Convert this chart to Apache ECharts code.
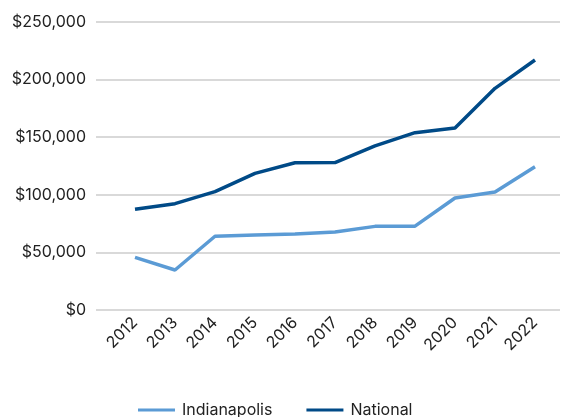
<!DOCTYPE html>
<html>
<head>
<meta charset="utf-8">
<script src="https://cdn.jsdelivr.net/npm/echarts@6/dist/echarts.min.js"></script>
<style>html,body{margin:0;padding:0;background:#fff}#c{width:569px;height:417px}</style>
</head>
<body>
<div id="c"></div>
<script>
const years = ['2012','2013','2014','2015','2016','2017','2018','2019','2020','2021','2022'];
const indianapolis = [45700, 34700, 64000, 65000, 66000, 67700, 72600, 72800, 97200, 102400, 124400];
const national = [87400, 92300, 102700, 118600, 127800, 128000, 142500, 153900, 158000, 192400, 217000];
const yTicks = [0, 50000, 100000, 150000, 200000, 250000];

const font = 'Inter, "Noto Sans", sans-serif';
const chart = echarts.init(document.getElementById('c'));
chart.setOption({
  animation: false,
  textStyle: { fontFamily: font },
  grid: [
    { left: 96, right: 9, top: 22, bottom: 107 },
    { left: 115, right: 14, top: 22, bottom: 107 }
  ],
  xAxis: [
    { gridIndex: 0, type: 'value', show: false, min: 0, max: 1 },
    { gridIndex: 1, type: 'category', data: years, boundaryGap: true,
      axisLine: { show: false }, axisTick: { show: false },
      axisLabel: { rotate: 45, margin: 10, fontSize: 16, color: '#222222', fontFamily: font } }
  ],
  yAxis: [
    { gridIndex: 0, type: 'value', min: yTicks[0], max: yTicks[yTicks.length - 1], interval: 50000,
      axisLine: { show: false }, axisTick: { show: false },
      splitLine: { lineStyle: { color: '#d9d9d9', width: 2 } },
      axisLabel: { margin: 10, fontSize: 16, color: '#222222', fontFamily: font,
        formatter: v => '$' + v.toLocaleString('en-US') } },
    { gridIndex: 1, type: 'value', min: yTicks[0], max: yTicks[yTicks.length - 1], show: false, splitLine: { show: false } }
  ],
  legend: {
    left: 133, top: 397,
    icon: 'rect', itemWidth: 37, itemHeight: 3, itemGap: 34,
    textStyle: { fontSize: 16, color: '#222222', fontFamily: font, padding: [0, 0, 0, 2] },
    data: ['Indianapolis', 'National']
  },
  series: [
    { name: 'Indianapolis', type: 'line', xAxisIndex: 1, yAxisIndex: 1, data: indianapolis,
      showSymbol: false, symbol: 'none', lineStyle: { color: '#5b9bd5', width: 3.5 }, itemStyle: { color: '#5b9bd5' } },
    { name: 'National', type: 'line', xAxisIndex: 1, yAxisIndex: 1, data: national,
      showSymbol: false, symbol: 'none', lineStyle: { color: '#004a87', width: 3.5 }, itemStyle: { color: '#004a87' } }
  ]
});
</script>
</body>
</html>
